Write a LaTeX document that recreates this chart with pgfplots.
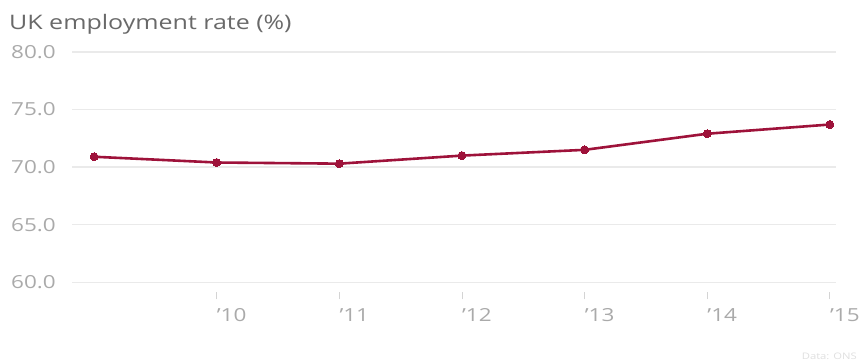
\documentclass[border=0pt]{standalone}
\usepackage{fontspec}
\setmainfont[FakeStretch=1.25]{Open Sans}
\usepackage{pgfplots}
\pgfplotsset{compat=1.18}
\definecolor{linecol}{RGB}{158,18,58}
\definecolor{gridcol}{RGB}{234,234,234}
\definecolor{ticklab}{RGB}{170,170,170}
\definecolor{titlecol}{RGB}{105,105,105}
\begin{document}
\begin{tikzpicture}[x=1pt,y=1pt]
\useasboundingbox (0,0) rectangle (859,363);
\node[anchor=base west, inner sep=0pt, text=titlecol, font=\fontsize{20}{24}\selectfont] at (9,333) {UK employment rate (\%)};
\begin{axis}[
  at={(72pt,63.5pt)}, anchor=south west,
  scale only axis, width=764pt, height=247.5pt,
  xmin=2008.82, xmax=2015.05, ymin=58.5, ymax=80,
  axis line style={draw=none},
  ytick={60,65,70,75,80},
  yticklabels={60.0,65.0,70.0,75.0,80.0},
  ymajorgrids, grid style={gridcol, line width=1.4pt},
  xtick={2010,2011,2012,2013,2014,2015},
  xticklabels={’10,’11,’12,’13,’14,’15},
  ytick style={draw=none},
  xtick style={draw=ticklab!50, line width=0.8pt},
  tick align=inside, major tick length=7pt,
  xtick pos=bottom,
  /pgf/number format/assume math mode=true,
  yticklabel style={anchor=west, inner sep=0pt, xshift=-61pt, text=ticklab, font=\fontsize{18}{20}\selectfont},
  xticklabel style={anchor=north west, inner sep=0pt, xshift=0pt, yshift=-9pt, text=ticklab, font=\fontsize{18}{20}\selectfont},
  clip=false,
]
\addplot[color=linecol, line width=2.6pt, mark=*, mark size=4pt, mark options={fill=linecol, draw=linecol, line width=0pt}] coordinates {
(2009,70.9) (2010,70.4) (2011,70.3) (2012,71.0) (2013,71.5) (2014,72.9) (2015,73.7)
};
\end{axis}
\node[anchor=base east, inner sep=0pt, text=gray!25, font=\fontsize{9}{10}\selectfont] at (857,3) {Data: ONS};
\end{tikzpicture}
\end{document}
